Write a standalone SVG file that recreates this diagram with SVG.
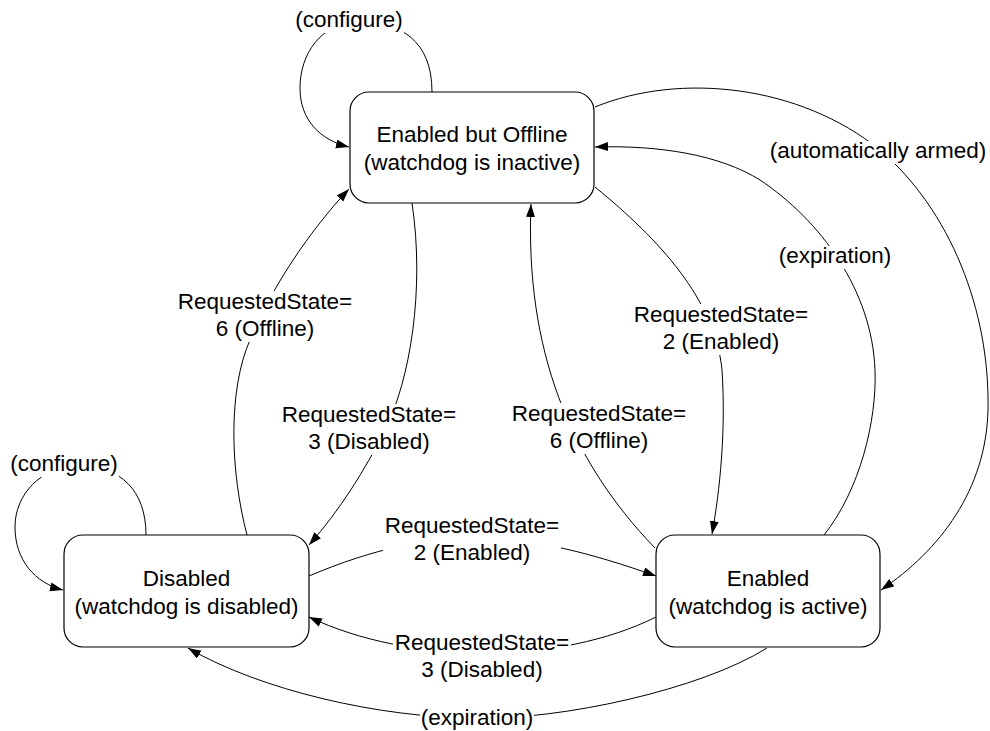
<svg xmlns="http://www.w3.org/2000/svg" width="990" height="731" viewBox="0 0 990 731">
  <style>
    .state rect { fill: #ffffff; stroke: #000000; stroke-width: 1.2; }
    text { font-family: "Liberation Sans", Arial, sans-serif; font-size: 22.5px; fill: #000000; text-anchor: middle; }
    .edge { fill: none; stroke: #000000; stroke-width: 1; }
    .arrow { marker-end: url(#head); }
    .lbg { fill: #ffffff; stroke: none; }
  </style>
  <defs>
    <marker id="head" markerUnits="userSpaceOnUse" markerWidth="14" markerHeight="10" refX="13" refY="4.5" orient="auto">
      <path d="M0,0 L13,4.5 L0,9 Z" fill="#000000"/>
    </marker>
  </defs>

  <rect width="990" height="731" fill="#ffffff"/>

  <!-- transitions -->
  <g id="connectors">
    <path class="edge arrow" d="M432,92 C432,40 400,22 360,22 C320,22 300,55 300,88 C300,120 320,140 349,147"/>
    <path class="edge arrow" d="M146,535 C146,490 120,466 80,466 C40,466 15,495 15,527 C15,560 35,583 63,590"/>
    <path class="edge arrow" d="M595,107 C680,72 800,85 880,150 C950,210 990,310 988,410 C986,490 940,550 881,590"/>
    <path class="edge arrow" d="M824,535 C860,490 877,420 875,370 C872,290 820,220 760,180 C720,155 660,145 595,147"/>
    <path class="edge arrow" d="M595,187 C660,240 715,300 722,370 C726,430 720,490 712,534"/>
    <path class="edge arrow" d="M655,548 C570,460 525,350 531,204"/>
    <path class="edge arrow" d="M412,203 C425,290 410,380 385,430 C365,470 340,510 309,545"/>
    <path class="edge arrow" d="M247,535 C230,470 228,390 250,340 C270,290 310,230 349,189"/>
    <path class="edge arrow" d="M309,576 C439,521 526,530 656,576"/>
    <path class="edge arrow" d="M656,617 C560,665 410,665 309,617"/>
    <path class="edge arrow" d="M767,648 C700,690 560,720 477,718 C380,718 260,690 188,648"/>

    <!-- transition labels -->
    <g id="lbl-configure-top">
      <rect class="lbg" x="294" y="10" width="110" height="23"/>
      <text x="349" y="27">(configure)</text>
    </g>
    <g id="lbl-configure-left">
      <rect class="lbg" x="9" y="454" width="110" height="23"/>
      <text x="64" y="471">(configure)</text>
    </g>
    <g id="lbl-offline-left">
      <rect class="lbg" x="176" y="291" width="178" height="51"/>
      <text x="265" y="309">RequestedState=</text>
      <text x="265" y="336">6 (Offline)</text>
    </g>
    <g id="lbl-disabled-mid">
      <rect class="lbg" x="280" y="404" width="178" height="51"/>
      <text x="369" y="422">RequestedState=</text>
      <text x="369" y="449">3 (Disabled)</text>
    </g>
    <g id="lbl-offline-mid">
      <rect class="lbg" x="510" y="403" width="178" height="51"/>
      <text x="599" y="421">RequestedState=</text>
      <text x="599" y="448">6 (Offline)</text>
    </g>
    <g id="lbl-enabled-right">
      <rect class="lbg" x="632" y="304" width="178" height="51"/>
      <text x="721" y="322">RequestedState=</text>
      <text x="721" y="349">2 (Enabled)</text>
    </g>
    <g id="lbl-expiration-right">
      <rect class="lbg" x="778" y="246" width="114" height="23"/>
      <text x="835" y="263">(expiration)</text>
    </g>
    <g id="lbl-armed">
      <rect class="lbg" x="769" y="141" width="218" height="23"/>
      <text x="878" y="158">(automatically armed)</text>
    </g>
    <g id="lbl-enabled-bottom">
      <rect class="lbg" x="383" y="515" width="178" height="51"/>
      <text x="472" y="533">RequestedState=</text>
      <text x="472" y="560">2 (Enabled)</text>
    </g>
    <g id="lbl-disabled-bottom">
      <rect class="lbg" x="393" y="632" width="178" height="51"/>
      <text x="482" y="650">RequestedState=</text>
      <text x="482" y="677">3 (Disabled)</text>
    </g>
    <g id="lbl-expiration-bottom">
      <rect class="lbg" x="420" y="708" width="114" height="23"/>
      <text x="477" y="725">(expiration)</text>
    </g>
  </g>

  <!-- states -->
  <g id="state-offline" class="state">
    <rect x="350" y="92" width="244" height="111" rx="19" ry="19"/>
    <text x="472" y="142">Enabled but Offline</text>
    <text x="472" y="170">(watchdog is inactive)</text>
  </g>
  <g id="state-disabled" class="state">
    <rect x="64" y="535" width="245" height="112" rx="19" ry="19"/>
    <text x="186.5" y="585.5">Disabled</text>
    <text x="186.5" y="613.5">(watchdog is disabled)</text>
  </g>
  <g id="state-enabled" class="state">
    <rect x="656" y="535" width="224" height="112" rx="19" ry="19"/>
    <text x="768" y="585.5">Enabled</text>
    <text x="768" y="613.5">(watchdog is active)</text>
  </g>
</svg>
